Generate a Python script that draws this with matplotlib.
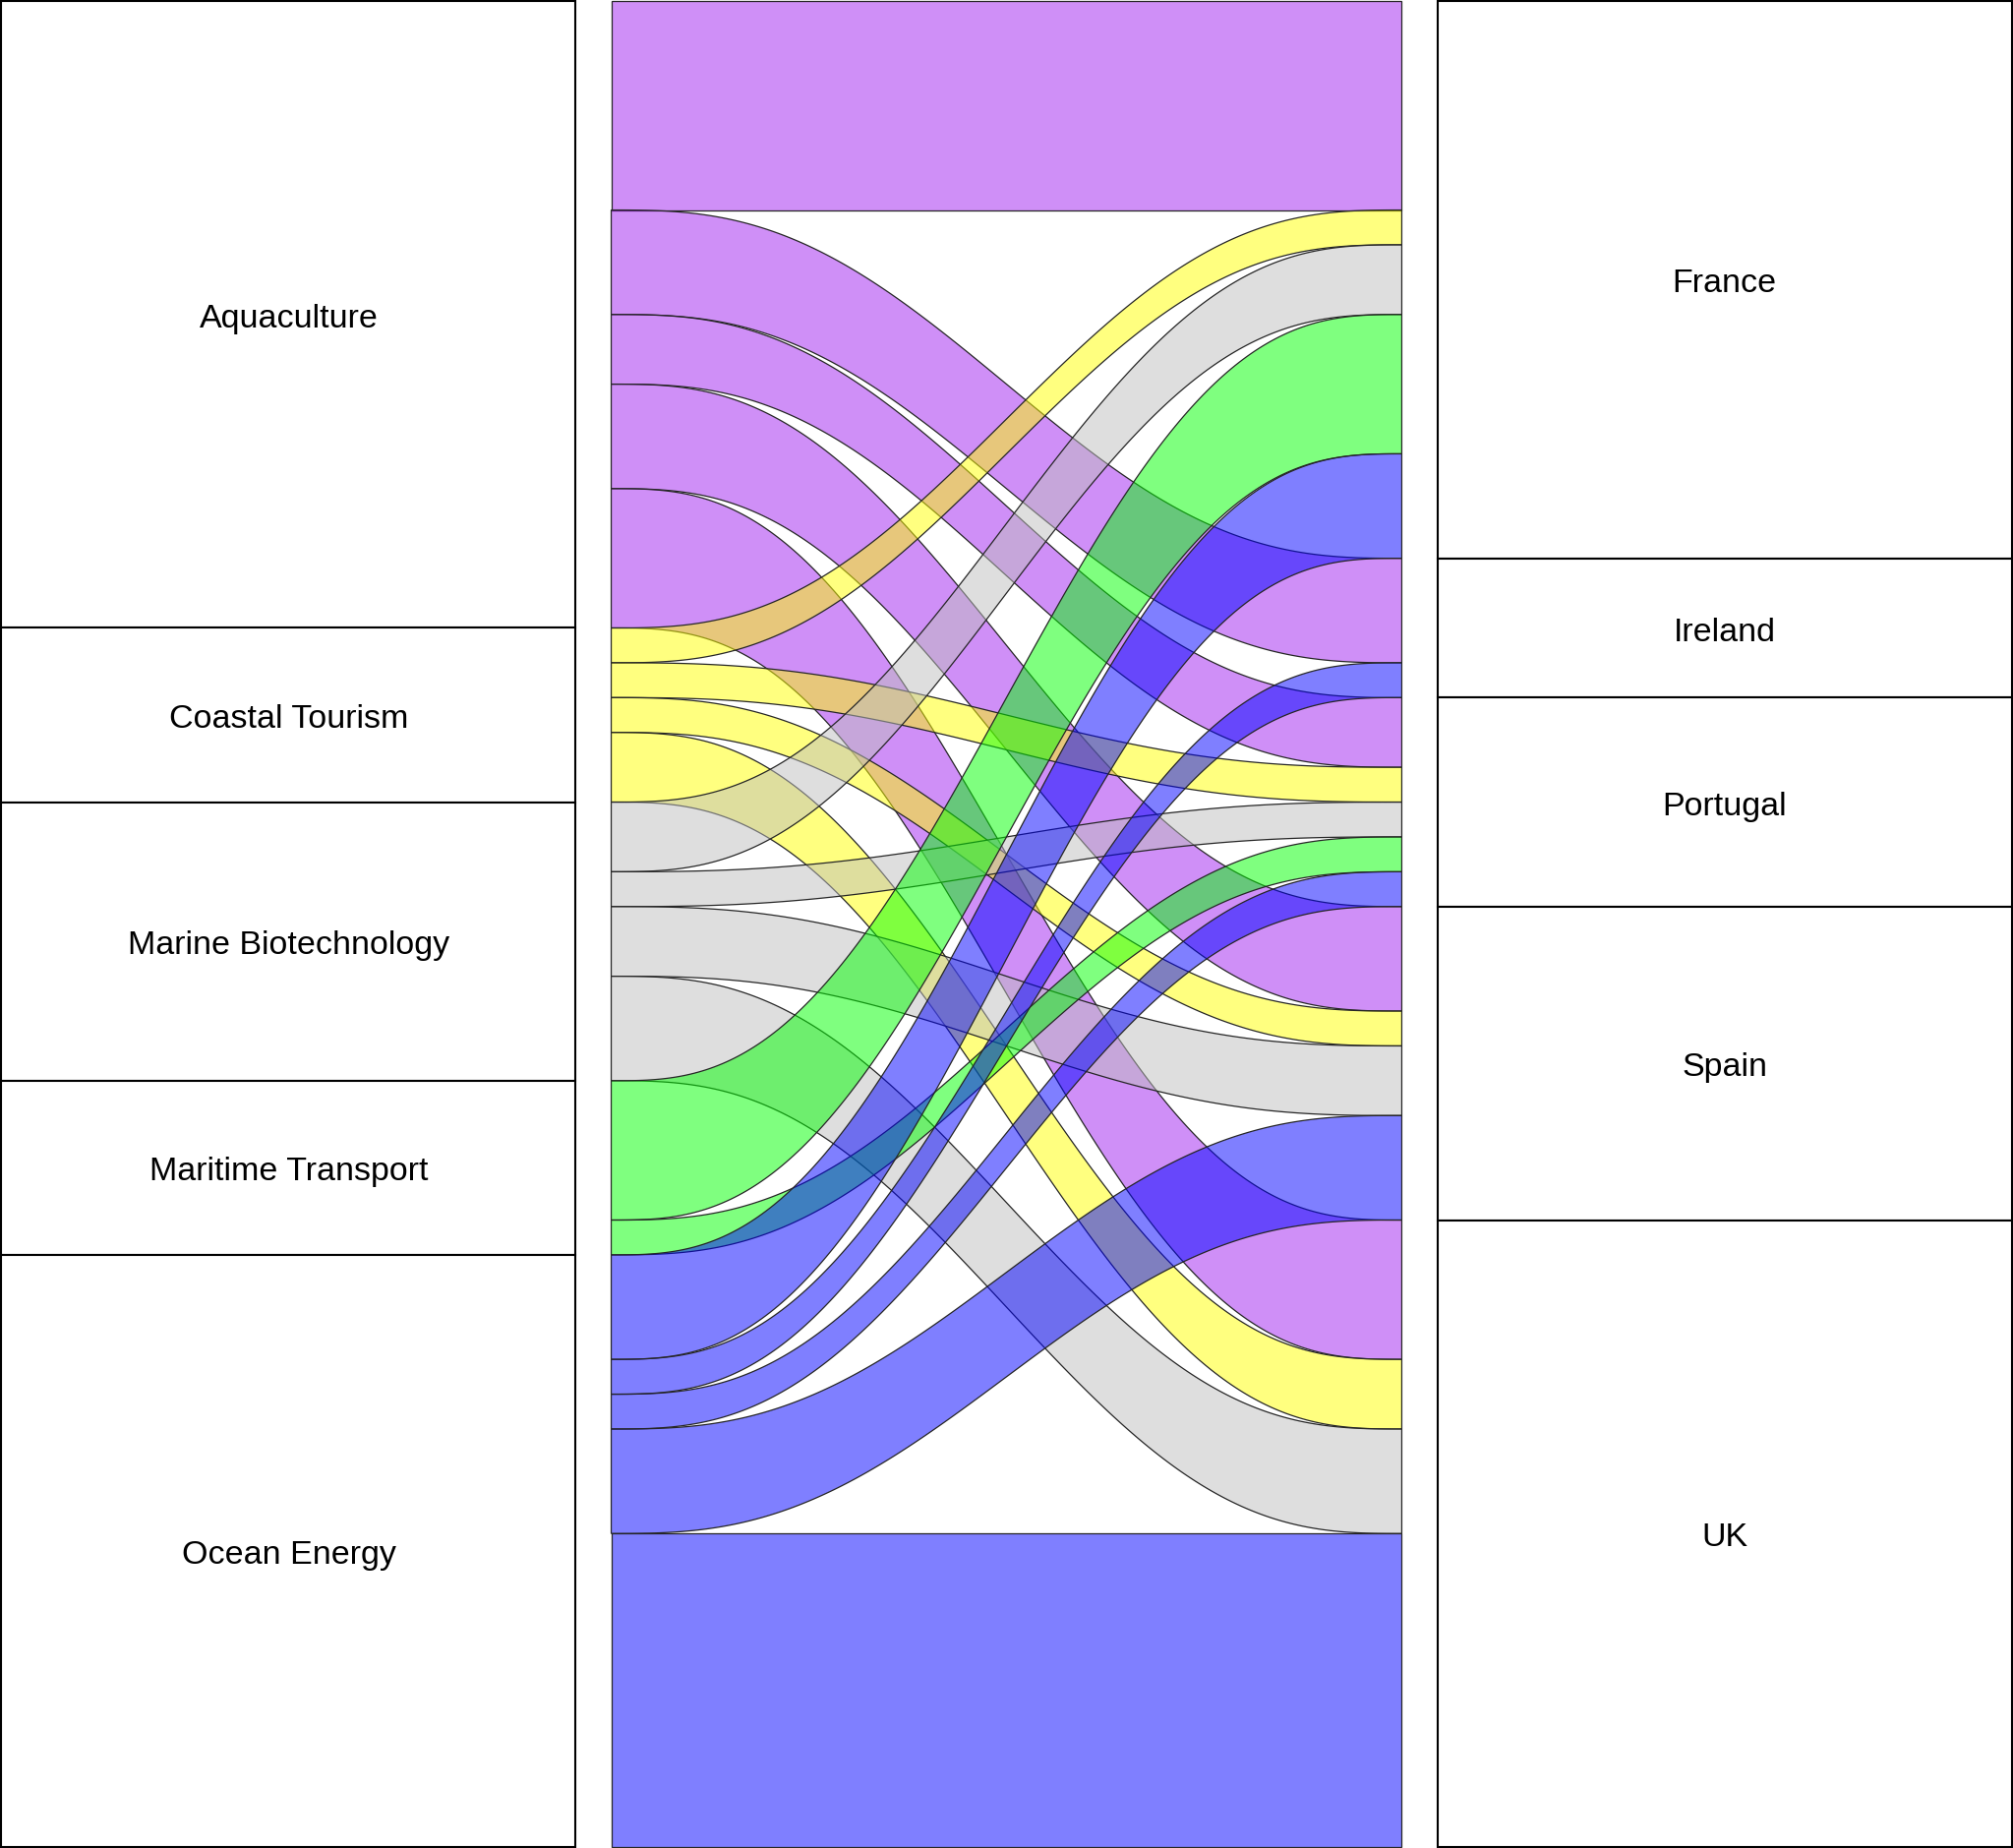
import numpy as np
import matplotlib.pyplot as plt
from matplotlib.colors import to_rgb
from matplotlib.patches import Rectangle, Polygon

plt.rcParams['font.family'] = ['Liberation Sans', 'DejaVu Sans']

sectors = ["Aquaculture", "Coastal Tourism", "Marine Biotechnology",
           "Maritime Transport", "Ocean Energy"]
countries = ["France", "Ireland", "Portugal", "Spain", "UK"]

# counts per sector, columns follow `countries`
aquaculture = [6, 3, 2, 3, 4]
coastal_tourism = [1, 0, 1, 1, 2]
marine_biotech = [2, 0, 1, 2, 3]
maritime_transport = [4, 0, 1, 0, 0]
ocean_energy = [3, 1, 1, 3, 9]

sector_colors = ["#A020F0", "#FFFF00", "#BEBEBE", "#00FF00", "#0000FF"]

freq = np.array([aquaculture, coastal_tourism, marine_biotech,
                 maritime_transport, ocean_energy])
total = freq.sum()

cw = 0.2      # half width of stratum boxes
gap = 0.0247  # space between box and ribbons


def ease(u):
    return 6 * u**5 - 15 * u**4 + 10 * u**3


fig = plt.figure(figsize=(20.47, 18.79), dpi=100)
ax = fig.add_axes([0, 0, 1, 1])
ax.set_xlim(1 - cw - 0.001, 2 + cw + 0.001)
ax.set_ylim(total + 0.03, -0.03)
ax.axis('off')

# positions of each ribbon on both axes
left_start = np.concatenate([[0], np.cumsum(freq.sum(axis=1))[:-1]])
right_start = np.concatenate([[0], np.cumsum(freq.sum(axis=0))[:-1]])
left_pos = np.zeros_like(freq, dtype=float)
right_pos = np.zeros_like(freq, dtype=float)
for i in range(len(sectors)):
    acc = left_start[i]
    for j in range(len(countries)):
        left_pos[i, j] = acc
        acc += freq[i, j]
for j in range(len(countries)):
    acc = right_start[j]
    for i in range(len(sectors)):
        right_pos[i, j] = acc
        acc += freq[i, j]

x0, x1 = 1 + cw + gap, 2 - cw - gap
u = np.linspace(0, 1, 200)
xs = x0 + (x1 - x0) * u

for i in range(len(sectors)):
    for j in range(len(countries)):
        n = freq[i, j]
        if n == 0:
            continue
        ya, yb = left_pos[i, j], right_pos[i, j]
        top = ya + (yb - ya) * ease(u)
        bot = top + n
        pts = np.concatenate([np.column_stack([xs, top]),
                              np.column_stack([xs[::-1], bot[::-1]])])
        ax.add_patch(Polygon(pts, closed=True,
                             facecolor=(*to_rgb(sector_colors[i]), 0.5),
                             edgecolor="#262626", linewidth=0.9))

# stratum boxes
for names, sizes, xc in [(sectors, freq.sum(axis=1), 1),
                         (countries, freq.sum(axis=0), 2)]:
    y = 0
    for name, s in zip(names, sizes):
        ax.add_patch(Rectangle((xc - cw, y), 2 * cw, s, facecolor="white",
                               edgecolor="black", linewidth=1.5))
        ax.text(xc, y + s / 2 + 0.13, name, ha="center", va="center",
                fontsize=24.5)
        y += s

fig.savefig("out.png", dpi=100)
